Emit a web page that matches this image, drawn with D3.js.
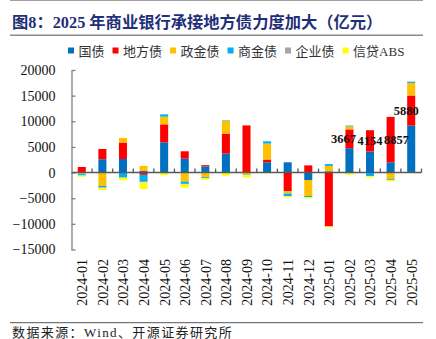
<!DOCTYPE html>
<html><head><meta charset="utf-8">
<script src="https://cdn.jsdelivr.net/npm/d3@7"></script>
<style>body{margin:0;background:#fff}svg{display:block}</style>
</head><body>
<svg id="c" width="436" height="339"></svg>
<script>
const categories = ["2024-01","2024-02","2024-03","2024-04","2024-05","2024-06","2024-07","2024-08","2024-09","2024-10","2024-11","2024-12","2025-01","2025-02","2025-03","2025-04","2025-05"];
const seriesNames = ["国债","地方债","政金债","商金债","企业债","信贷ABS"];
const guozhai   = [-150, 2600, 2650,   300, 5900, 2700, 1200, 3700,    0, 2000,  2000, -1450,    250, 4750, 4100, 2000, 9150];
const difangzhai= [1100, 2000, 3200,  -450, 3500, 1450,  250, 3900, 9200,  550, -3600,  1400, -10500, 3667, 4154, 8857, 5880];
const zhengjin  = [-150,-2600,  900,  1000, 1500,-1750, -900, 2500, -400, 3100,  -500, -3100,   1050,  600,    0,-1300, 2450];
const shangjin  = [-250, -300,-1000, -1350,  450, -450, -200,  100, -100,  450,  -500,  -250,    350,  150, -700, -200,  250];
const qiyezhai  = [ -50, -100,    0,  -100,    0, -100,    0, -100,    0,    0,     0,     0,      0,    0,    0,    0,    0];
const abs       = [-200, -400, -500, -1300, -500, -650, -300, -500, -450, -100,  -200,  -250,   -200, -400, -250, -200, -100];
const labelCats = ["2025-02","2025-03","2025-04","2025-05"];
const yTicks = [20000,15000,10000,5000,0,-5000,-10000,-15000];
const title = "图8：2025 年商业银行承接地方债力度加大（亿元）";
const source = "数据来源：Wind、开源证券研究所";
const colors = ["#0070C0","#FF0000","#FFC000","#00B0F0","#A5A5A5","#FFFF00"];

const seriesVals = [guozhai, difangzhai, zhengjin, shangjin, qiyezhai, abs];
const rows = categories.map((c,i)=>{const o={cat:c}; seriesNames.forEach((s,j)=>o[s]=seriesVals[j][i]); return o;});

const svg = d3.select("#c");
const serif = "'Liberation Serif','Times New Roman',serif";
const cjk = "'Liberation Serif','Noto Sans CJK SC',serif";

// header lines and title
svg.append("line").attr("x1",10).attr("x2",423).attr("y1",0.5).attr("y2",0.5).attr("stroke","#a0a0a0").attr("stroke-width",1);
svg.append("text").attr("x",12).attr("y",28).text(title)
  .attr("font-family",cjk).attr("font-weight","bold").attr("font-size",16.3).attr("fill","#1f2f7a");
svg.append("line").attr("x1",10).attr("x2",423).attr("y1",35.2).attr("y2",35.2).attr("stroke","#8c8c8c").attr("stroke-width",1.5);

// legend
const lg = svg.append("g");
let lx = 68;
seriesNames.forEach((s,i)=>{
  lg.append("rect").attr("x",lx).attr("y",47.5).attr("width",6).attr("height",6).attr("fill",colors[i]);
  const t = lg.append("text").attr("x",lx+10.5).attr("y",55.5).text(s)
    .attr("font-family",cjk).attr("font-size",13).attr("fill","#333");
  lx += 10.5 + t.node().getComputedTextLength() + 8;
});

// scales
const x = d3.scaleBand().domain(categories).range([71.5,421.5]).paddingInner(0.61).paddingOuter(0.305);
const y = d3.scaleLinear().domain([-15000,20000]).range([249.5,70]);

// stacks
const stack = d3.stack().keys(seriesNames).offset(d3.stackOffsetDiverging);
const stacked = stack(rows);
const gBars = svg.append("g");
stacked.forEach((layer,i)=>{
  gBars.selectAll(null).data(layer).join("rect")
    .attr("x",d=>x(d.data.cat)).attr("width",x.bandwidth())
    .attr("y",d=>y(Math.max(d[0],d[1]))).attr("height",d=>Math.abs(y(d[0])-y(d[1])))
    .attr("fill",colors[i]);
});

// y axis
const yAxis = d3.axisLeft(y).tickValues(yTicks).tickSizeInner(-4).tickSizeOuter(0).tickPadding(16).tickFormat(d3.format("d"));
const ga = svg.append("g").attr("transform","translate(71.5,0)").call(yAxis);
ga.select(".domain").attr("stroke","#808080").attr("stroke-width",1.3);
ga.selectAll(".tick line").attr("stroke","#808080").attr("stroke-width",1.3);
ga.selectAll(".tick text").attr("font-family",serif).attr("font-size",14).attr("fill","#111");

// x axis at zero
const y0 = y(0);
svg.append("line").attr("x1",71.5).attr("x2",421.5).attr("y1",y0).attr("y2",y0).attr("stroke","#595959").attr("stroke-width",1.5);
const step = x.step();
svg.append("g").selectAll("line").data(categories).join("line")
  .attr("x1",d=>x(d)+x.bandwidth()/2+step/2).attr("x2",d=>x(d)+x.bandwidth()/2+step/2)
  .attr("y1",y0).attr("y2",y0-4).attr("stroke","#595959").attr("stroke-width",1.3);

// x labels
svg.append("g").selectAll("text").data(categories).join("text")
  .attr("transform",d=>`translate(${x(d)+x.bandwidth()/2+0.5},259) rotate(-90)`)
  .attr("text-anchor","end").attr("dy","0.35em").text(d=>d)
  .attr("font-family",serif).attr("font-size",14).attr("fill","#111");

// data labels for 地方债
const nudge = {"2025-02":-6,"2025-03":0,"2025-04":6,"2025-05":-5};
const dLayer = stacked[1];
svg.append("g").selectAll("text").data(dLayer.filter(d=>labelCats.includes(d.data.cat))).join("text")
  .attr("x",d=>x(d.data.cat)+x.bandwidth()/2+nudge[d.data.cat])
  .attr("y",d=>y((d[0]+d[1])/2)).attr("dy","0.35em").attr("text-anchor","middle")
  .text(d=>d.data["地方债"])
  .attr("font-family",serif).attr("font-weight","bold").attr("font-size",12.5).attr("fill","#111");

// footer
svg.append("line").attr("x1",10).attr("x2",423).attr("y1",322.7).attr("y2",322.7).attr("stroke","#555").attr("stroke-width",1);
svg.append("text").attr("x",12).attr("y",336.5).text(source)
  .attr("font-family",cjk).attr("font-size",13).attr("letter-spacing",1.4).attr("fill","#222");
</script>
</body></html>
